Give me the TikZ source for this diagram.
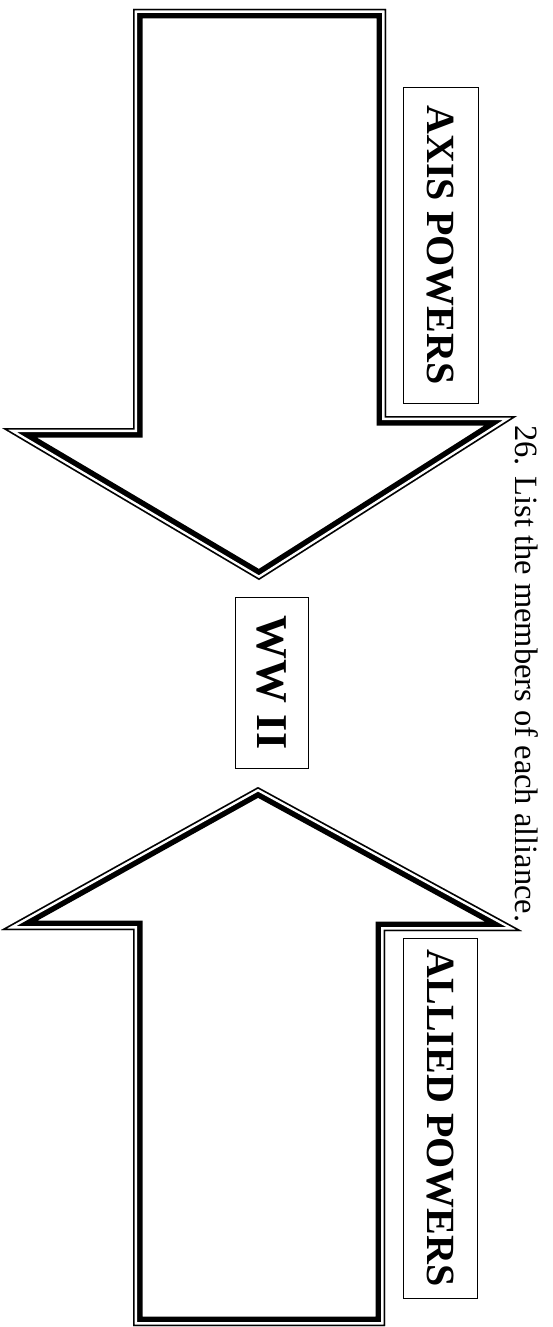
\documentclass[tikz,border=0pt]{standalone}
\usepackage{fontspec}
\setmainfont{Liberation Serif}
\usetikzlibrary{calc}

\begin{document}
\begin{tikzpicture}[x=1pt, y=-1pt]
    % Define widths of the double border (thick band, white gap, thin rule)
    \def\thickBand{19}
    \def\gapBand{8}
    \def\thinBand{3}

    \definecolor{borderColour}{HTML}{000000}
    \definecolor{fillColour}{HTML}{FFFFFF}

    \tikzset{
        labelBox/.style={draw=borderColour, line width=0.8pt, rotate=-90, inner sep=0pt,
            font=\fontsize{40}{44}\selectfont\bfseries},
        questionText/.style={rotate=-90, anchor=base west, inner sep=0pt,
            font=\fontsize{32.5}{36}\selectfont},
    }

    \useasboundingbox (0,0) rectangle (552,1327);

    % Define the corners of the axis arrow (pointing down)
    \coordinate (axisTopLeft) at (133,9);
    \coordinate (axisTopRight) at (386,9);
    \coordinate (axisNeckRight) at (386,416);
    \coordinate (axisBarbRight) at (517,416);
    \coordinate (axisTip) at (259,580);
    \coordinate (axisBarbLeft) at (2,428);
    \coordinate (axisNeckLeft) at (133,428);
    \def\axisArrow{(axisTopLeft) -- (axisTopRight) -- (axisNeckRight) -- (axisBarbRight)
        -- (axisTip) -- (axisBarbLeft) -- (axisNeckLeft) -- cycle}

    % Define the corners of the allied arrow (pointing up)
    \coordinate (alliedTip) at (258,787);
    \coordinate (alliedBarbRight) at (522,931);
    \coordinate (alliedNeckRight) at (385,931);
    \coordinate (alliedBottomRight) at (385,1326);
    \coordinate (alliedBottomLeft) at (133,1326);
    \coordinate (alliedNeckLeft) at (133,930);
    \coordinate (alliedBarbLeft) at (1,930);
    \def\alliedArrow{(alliedTip) -- (alliedBarbRight) -- (alliedNeckRight) -- (alliedBottomRight)
        -- (alliedBottomLeft) -- (alliedNeckLeft) -- (alliedBarbLeft) -- cycle}

    % Draw the axis arrow
    \begin{scope}
        \clip \axisArrow;
        \foreach \w/\c in {\thickBand/borderColour, \gapBand/fillColour, \thinBand/borderColour}
            \draw[\c, line width=\w pt, miter limit=25] \axisArrow;
    \end{scope}

    % Draw the allied arrow
    \begin{scope}
        \clip \alliedArrow;
        \foreach \w/\c in {\thickBand/borderColour, \gapBand/fillColour, \thinBand/borderColour}
            \draw[\c, line width=\w pt, miter limit=25] \alliedArrow;
    \end{scope}

    % Label boxes
    \node[labelBox, minimum width=316, minimum height=75] (axisLabel) at (440.5,245) {AXIS POWERS};
    \node[labelBox, minimum width=171, minimum height=73, font=\fontsize{44}{48}\selectfont\bfseries] (warLabel) at (271.5,682.5) {WW II};
    \node[labelBox, minimum width=360, minimum height=74] (alliedLabel) at (440,1118) {ALLIED POWERS};

    % Question
    \node[questionText] (question) at (515,425) {26. List the members of each alliance.};

\end{tikzpicture}
\end{document}
